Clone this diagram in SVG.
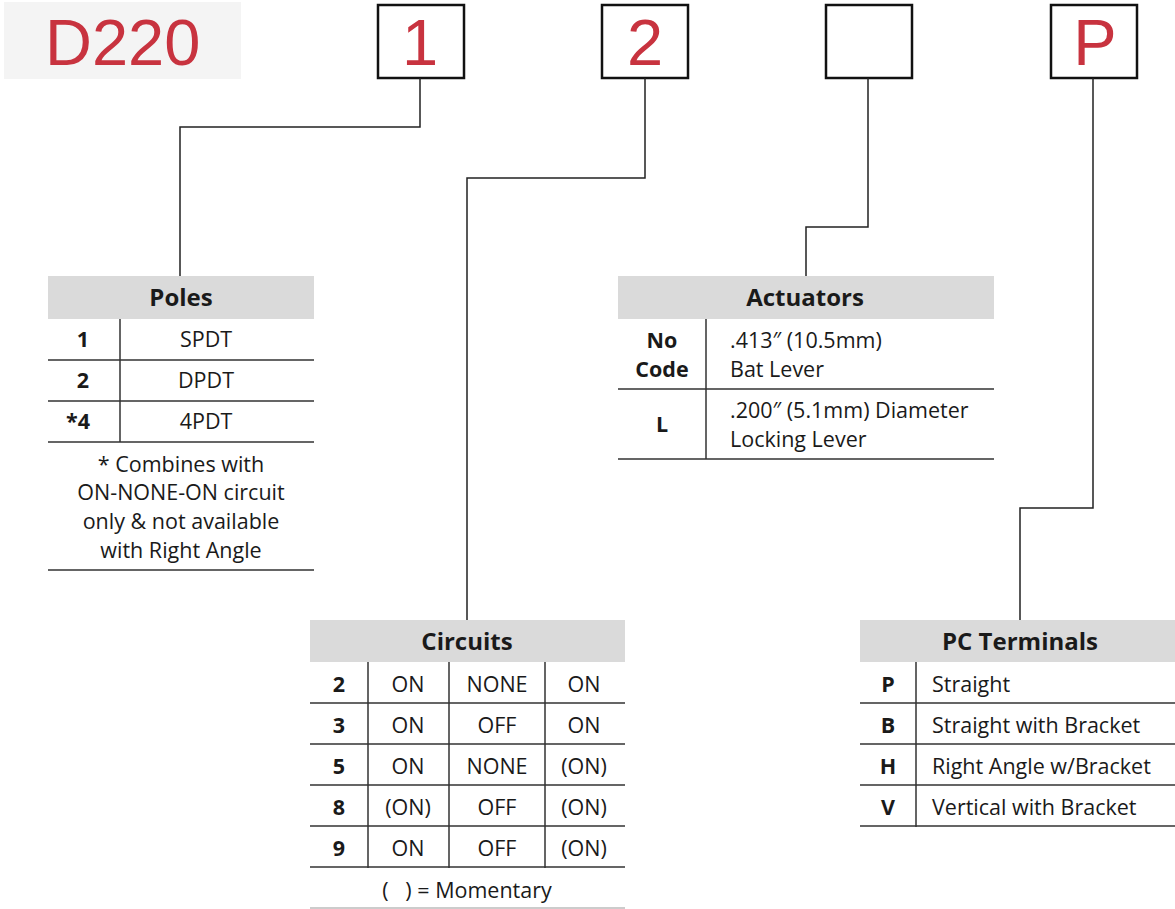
<svg xmlns="http://www.w3.org/2000/svg" width="1175" height="909" viewBox="0 0 1175 909">
<style>
text{font-family:"Open Sans","Liberation Sans",sans-serif;fill:#1a1a1a;font-size:21.5px}
.code{fill:#c8333f;font-family:"Liberation Sans",Arial,sans-serif;font-size:65px}
.box{fill:#fff;stroke:#111;stroke-width:2.5}
.hdr{fill:#dadada}
.ttl{font-weight:bold;font-size:24px;text-anchor:middle}
.k{font-weight:bold;text-anchor:middle}
.c{text-anchor:middle}
.ln{stroke:#333;stroke-width:1.5;fill:none}
.lt{stroke:#bbb;stroke-width:1.5;fill:none}
.conn{stroke:#222;stroke-width:1.5;fill:none}
</style>
<g id="title">
<rect x="4" y="2" width="237" height="77" fill="#f4f4f4"/>
<text class="code" x="45" y="65">D220</text>
</g>
<g id="box1"><rect class="box" x="378" y="5" width="86" height="73"/><text class="code" x="420" y="65" text-anchor="middle">1</text></g>
<g id="box2"><rect class="box" x="602" y="5" width="86" height="73"/><text class="code" x="645" y="65" text-anchor="middle">2</text></g>
<g id="box3"><rect class="box" x="826" y="5" width="86" height="73"/></g>
<g id="box4"><rect class="box" x="1051" y="5" width="86" height="73"/><text class="code" x="1095" y="65" text-anchor="middle">P</text></g>
<g id="connectors">
<path class="conn" d="M420 78V127H180V276"/>
<path class="conn" d="M645 78V178H467V620"/>
<path class="conn" d="M868 78V227H806V276"/>
<path class="conn" d="M1093 78V508H1020V620"/>
</g>
<g id="poles">
<rect class="hdr" x="48" y="276" width="266" height="43"/>
<text class="ttl" x="181" y="306">Poles</text>
<path class="ln" d="M120 319V442M48 360H314M48 401H314M48 442H314M48 570H314"/>
<text class="k" x="83" y="347">1</text><text class="c" x="206" y="347">SPDT</text>
<text class="k" x="83" y="388">2</text><text class="c" x="206" y="388">DPDT</text>
<text class="k" x="78" y="429">*4</text><text class="c" x="206" y="429">4PDT</text>
<text class="c" x="181" y="472">* Combines with</text>
<text class="c" x="181" y="500">ON-NONE-ON circuit</text>
<text class="c" x="181" y="529">only &amp; not available</text>
<text class="c" x="181" y="558">with Right Angle</text>
</g>
<g id="actuators">
<rect class="hdr" x="618" y="276" width="376" height="43"/>
<text class="ttl" x="805" y="306">Actuators</text>
<path class="ln" d="M706 319V459M618 389H994M618 459H994"/>
<text class="k" x="662" y="348">No</text><text class="k" x="662" y="377">Code</text>
<text x="730" y="348">.413″ (10.5mm)</text><text x="730" y="377">Bat Lever</text>
<text class="k" x="662" y="432">L</text>
<text x="730" y="418">.200″ (5.1mm) Diameter</text><text x="730" y="447">Locking Lever</text>
</g>
<g id="circuits">
<rect class="hdr" x="310" y="620" width="315" height="42"/>
<text class="ttl" x="467" y="650">Circuits</text>
<path class="ln" d="M368 662V868M449 662V868M545 662V868M310 703H625M310 744H625M310 785H625M310 826H625M310 867H625"/>
<path class="lt" d="M310 908H625"/>
<text class="k" x="339" y="692">2</text><text class="c" x="408" y="692">ON</text><text class="c" x="497" y="692">NONE</text><text class="c" x="584" y="692">ON</text>
<text class="k" x="339" y="733">3</text><text class="c" x="408" y="733">ON</text><text class="c" x="497" y="733">OFF</text><text class="c" x="584" y="733">ON</text>
<text class="k" x="339" y="774">5</text><text class="c" x="408" y="774">ON</text><text class="c" x="497" y="774">NONE</text><text class="c" x="584" y="774">(ON)</text>
<text class="k" x="339" y="815">8</text><text class="c" x="408" y="815">(ON)</text><text class="c" x="497" y="815">OFF</text><text class="c" x="584" y="815">(ON)</text>
<text class="k" x="339" y="856">9</text><text class="c" x="408" y="856">ON</text><text class="c" x="497" y="856">OFF</text><text class="c" x="584" y="856">(ON)</text>
<text class="c" x="467" y="898">(&#160;&#160;&#160;) = Momentary</text>
</g>
<g id="terminals">
<rect class="hdr" x="860" y="620" width="315" height="42"/>
<text class="ttl" x="1020" y="650">PC Terminals</text>
<path class="ln" d="M916 662V827M860 703H1175M860 744H1175M860 785H1175M860 826H1175"/>
<text class="k" x="888" y="692">P</text><text x="932" y="692">Straight</text>
<text class="k" x="888" y="733">B</text><text x="932" y="733">Straight with Bracket</text>
<text class="k" x="888" y="774">H</text><text x="932" y="774">Right Angle w/Bracket</text>
<text class="k" x="888" y="815">V</text><text x="932" y="815">Vertical with Bracket</text>
</g>
</svg>
